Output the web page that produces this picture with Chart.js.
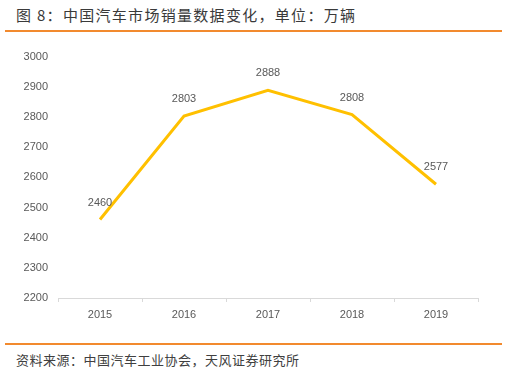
<!DOCTYPE html>
<html>
<head>
<meta charset="utf-8">
<script src="https://cdn.jsdelivr.net/npm/chart.js@4"></script>
<style>
  html, body { margin: 0; padding: 0; background: #fff; }
  body { width: 508px; height: 372px; position: relative; overflow: hidden; font-family: "Noto Sans CJK SC", sans-serif; }
  .title { position: absolute; left: 16px; top: 4px; font-size: 15px; color: #3a3a3a; letter-spacing: 1.3px; }
  .rule { position: absolute; left: 5px; width: 497px; height: 2px; background: #f28a2e; }
  .source { position: absolute; left: 16px; top: 350px; font-size: 13px; color: #404040; letter-spacing: 0.5px; }
  #wrap { position: absolute; left: 0; top: 40px; width: 508px; height: 282px; }
</style>
</head>
<body>
<div class="title">图 8：中国汽车市场销量数据变化，单位：万辆</div>
<div class="rule" style="top:30px"></div>
<div id="wrap"><canvas id="sales-chart"></canvas></div>
<div class="rule" style="top:343px"></div>
<div class="source">资料来源：中国汽车工业协会，天风证券研究所</div>
<script>
// ─── DATA ─────────────────────────────────────────────────
const years = ['2015', '2016', '2017', '2018', '2019'];
const sales = [2460, 2803, 2888, 2808, 2577];
const yTicks = [2200, 2300, 2400, 2500, 2600, 2700, 2800, 2900, 3000];

// value labels above each point
const pointLabels = {
    id: 'pointLabels',
    afterDatasetsDraw(chart) {
        const c = chart.ctx;
        const meta = chart.getDatasetMeta(0);
        c.save();
        c.font = '11px "Liberation Sans", Arial, sans-serif';
        c.fillStyle = '#595959';
        c.textAlign = 'center';
        c.textBaseline = 'middle';
        meta.data.forEach((pt, i) => {
            c.fillText(String(sales[i]), pt.x, pt.y - 17);
        });
        c.restore();
    }
};

new Chart(document.getElementById('sales-chart'), {
    type: 'line',
    data: {
        labels: years,
        datasets: [{
            data: sales,
            borderColor: '#FFC000',
            borderWidth: 3,
            pointRadius: 0,
            tension: 0,
            fill: false,
        }]
    },
    options: {
        responsive: true, maintainAspectRatio: false, animation: false,
        layout: { padding: { top: 16, right: 30, bottom: 0, left: 0 } },
        plugins: { legend: { display: false }, tooltip: { enabled: false } },
        scales: {
            x: {
                offset: true,
                grid: { offset: true, drawOnChartArea: false, drawTicks: true, tickLength: 4, color: '#d9d9d9' },
                border: { color: '#d9d9d9' },
                ticks: { font: { family: 'Liberation Sans', size: 11 }, color: '#595959', padding: 6, maxRotation: 0 },
                afterFit: s => { s.height = 24; },
            },
            y: {
                min: yTicks[0], max: yTicks[yTicks.length - 1],
                grid: { display: false, drawTicks: false },
                border: { display: false },
                afterBuildTicks: s => { s.ticks = yTicks.map(v => ({ value: v })); },
                ticks: { font: { family: 'Liberation Sans', size: 11 }, color: '#595959', padding: 10, callback: v => String(v) },
                afterFit: s => { s.width = 58; },
            }
        }
    },
    plugins: [pointLabels]
});
</script>
</body>
</html>
